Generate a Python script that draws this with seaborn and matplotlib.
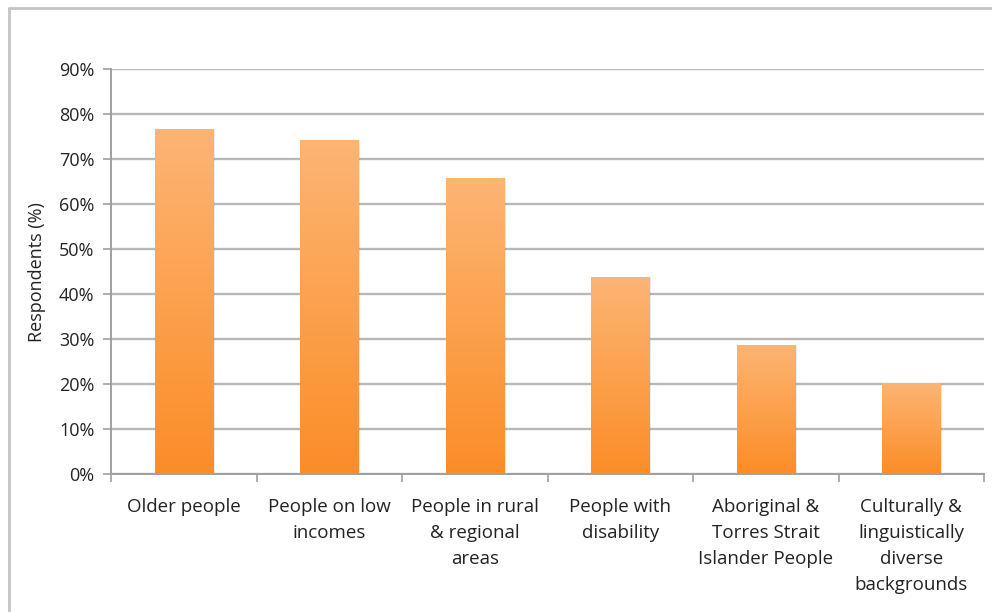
import numpy as np
import pandas as pd
import matplotlib
matplotlib.use("Agg")
import matplotlib.pyplot as plt
import seaborn as sns
from matplotlib.lines import Line2D
from matplotlib.colors import LinearSegmentedColormap

categories = ["Older people", "People on low\nincomes", "People in rural\n& regional\nareas",
              "People with\ndisability", "Aboriginal &\nTorres Strait\nIslander People",
              "Culturally &\nlinguistically\ndiverse\nbackgrounds"]
values = [76.7, 74.2, 65.8, 43.8, 28.7, 20.4]
yticks = [0, 10, 20, 30, 40, 50, 60, 70, 80, 90]
ytick_labels = [f"{v}%" for v in yticks]

sns.set_theme(style="white")
plt.rcParams['font.family'] = ['Open Sans', 'DejaVu Sans']

W, H = 992, 612
fig = plt.figure(figsize=(W/100, H/100), dpi=100)
ax = fig.add_axes([111/W, 1-474.3/H, (984-111)/W, (474.3-69.3)/H])

df = pd.DataFrame({"cat": categories, "val": values})
sns.barplot(data=df, x="cat", y="val", ax=ax, width=0.4, color="#FCA24F",
            saturation=1, zorder=3)

cmap = LinearSegmentedColormap.from_list("og", ["#FB8D27", "#FDB574"])
grad = np.linspace(0, 1, 256).reshape(-1, 1)
for p in ax.patches:
    x0, y0 = p.get_x(), p.get_y()
    w, h = p.get_width(), p.get_height()
    sh = plt.Rectangle((x0 + 0.012, y0), w, h, facecolor="#000000", alpha=0.08,
                       edgecolor="none", zorder=2.5)
    ax.add_patch(sh)
    im = ax.imshow(grad, cmap=cmap, origin="lower", aspect="auto",
                   extent=[x0, x0 + w, y0, y0 + h], zorder=3.5)
    im.set_clip_path(p)
    p.set_facecolor("none")
    p.set_edgecolor("none")

ax.set_xlim(-0.5, len(categories) - 0.5)
ax.set_ylim(0, 90)
ax.set_yticks(yticks)
ax.set_yticklabels(ytick_labels, fontsize=13, color="#222222")
ax.yaxis.grid(True, color="#B8B8B8", linewidth=1.7, zorder=0)
ax.set_axisbelow(True)
ax.tick_params(axis="y", which="major", left=True, length=6, width=1.2,
               color="#A0A0A0", pad=6)

ax.set_xticks(range(len(categories)))
ax.set_xticklabels(categories, fontsize=13.5, color="#222222", linespacing=1.57,
                   va="top")
ax.tick_params(axis="x", which="major", bottom=False, pad=11)
ax.set_xticks(np.arange(-0.5, len(categories), 1.0), minor=True)
ax.tick_params(axis="x", which="minor", bottom=True, length=6, width=1.2,
               color="#A0A0A0")

for s in ["top", "right"]:
    ax.spines[s].set_visible(False)
for s in ["left", "bottom"]:
    ax.spines[s].set_color("#A0A0A0")
    ax.spines[s].set_linewidth(1.4)

ax.set_xlabel("")
ax.set_ylabel("Respondents (%)", fontsize=13, color="#222222", labelpad=9)

fig.add_artist(Line2D([9/W, 1.0], [1-8/H, 1-8/H], color="#C4C4C4", linewidth=2,
                      transform=fig.transFigure))
fig.add_artist(Line2D([9/W, 9/W], [0, 1-8/H], color="#C4C4C4", linewidth=2,
                      transform=fig.transFigure))

fig.savefig("out.png", dpi=100, facecolor="white")
